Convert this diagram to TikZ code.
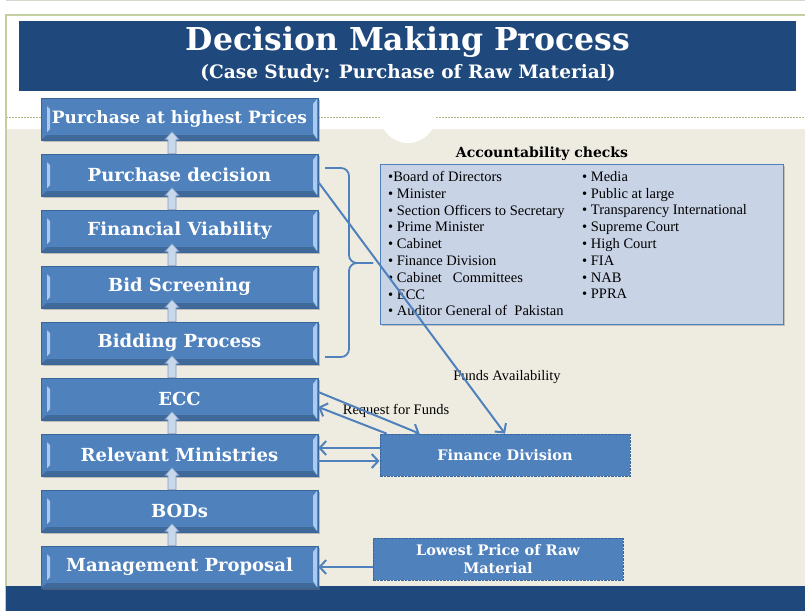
\documentclass[tikz,border=0pt]{standalone}
\usepackage{fontspec}
\setmainfont{DejaVu Serif}
\newfontfamily\listfont{Liberation Serif}
\usepackage{tikz}
\usetikzlibrary{arrows.meta,positioning,calc,shadows}

\definecolor{titleblue}{HTML}{1F497D}
\definecolor{boxblue}{HTML}{4F81BD}
\definecolor{boxedge}{HTML}{3A659B}
\definecolor{paper}{HTML}{EEECE1}
\definecolor{framegreen}{HTML}{C4CFA0}
\definecolor{dotgreen}{HTML}{A9B97F}
\definecolor{checkfill}{HTML}{C9D3E6}
\definecolor{bevel}{HTML}{A9CBF2}
\definecolor{upfill}{HTML}{C8D7EA}
\definecolor{upedge}{HTML}{7F9DC6}

\tikzset{
  procbox/.style={fill=boxblue, draw=boxedge, line width=0.6pt,
    minimum width=277pt, minimum height=42pt, inner sep=0pt,
    text=white, font=\fontsize{18}{20}\selectfont\bfseries,
    drop shadow={shadow xshift=2pt, shadow yshift=-2pt, opacity=0.45},
    path picture={
      \fill[bevel] ([xshift=6pt,yshift=-8pt]path picture bounding box.north west)
        -- ([xshift=9pt,yshift=-11pt]path picture bounding box.north west)
        -- ([xshift=9pt,yshift=11pt]path picture bounding box.south west)
        -- ([xshift=6pt,yshift=8pt]path picture bounding box.south west) -- cycle;
      \fill[bevel] ([xshift=-1pt,yshift=-1pt]path picture bounding box.north east)
        -- ([xshift=-5pt,yshift=-6pt]path picture bounding box.north east)
        -- ([xshift=-5pt,yshift=7pt]path picture bounding box.south east)
        -- ([xshift=-1pt,yshift=1pt]path picture bounding box.south east) -- cycle;
      \fill[black, opacity=0.18] (path picture bounding box.south west)
        -- ([xshift=6pt,yshift=5pt]path picture bounding box.south west)
        -- ([xshift=-5pt,yshift=5pt]path picture bounding box.south east)
        -- (path picture bounding box.south east) -- cycle;
    }},
  sidebox/.style={fill=boxblue, draw=boxedge, line width=0.8pt,
    dash pattern=on 2.5pt off 1pt, minimum width=250pt, minimum height=42pt,
    inner sep=0pt, text=white, font=\fontsize{14.5}{18.5}\selectfont\bfseries},
  checkbox/.style={fill=checkfill, draw=boxblue, line width=0.8pt,
    minimum width=403pt, minimum height=160pt, inner sep=0pt,
    drop shadow={shadow xshift=2pt, shadow yshift=-2pt, opacity=0.4}},
  listtext/.style={align=left, inner sep=0pt, text=black,
    font=\listfont\fontsize{14.5}{16.8}\selectfont},
  upblock/.style={fill=upfill, draw=upedge, line width=0.6pt},
  link/.style={draw=boxblue, line width=2pt,
    -{Straight Barb[length=6.5pt,width=14pt]}},
  bracket/.style={draw=boxblue, line width=1.8pt, rounded corners=8pt},
  remark/.style={inner sep=0pt, font=\listfont\fontsize{14.5}{16}\selectfont}
}

\begin{document}
\begin{tikzpicture}[x=1pt,y=-1pt]
\useasboundingbox (0,0) rectangle (805,611);
\fill[white] (0,0) rectangle (805,611);
\draw[color=paper!80!gray, line width=1pt] (6,0.8) -- (805,0.8);
\fill[paper] (6,129) rectangle (805,586);
\fill[white] (408,115) circle (28pt);
\draw[dotgreen, line width=1pt, dash pattern=on 2pt off 1pt] (6,117) -- (380,117);
\draw[dotgreen, line width=1pt, dash pattern=on 2pt off 1pt] (436,117) -- (805,117);
\draw[framegreen, line width=1.6pt] (805,15) -- (6,15) -- (6,611);
\fill[titleblue] (19,21) rectangle (796,91);
\fill[titleblue] (6,586) rectangle (805,611);

\node[text=white, font=\fontsize{31.5}{34}\selectfont\bfseries] (title) at (408,42) {Decision Making Process};
\node[text=white, font=\fontsize{18.5}{20}\selectfont\bfseries] (subtitle) at (408,74) {(Case Study: Purchase of Raw Material)};

\node[procbox, font=\fontsize{17}{20}\selectfont\bfseries] (hp) at (179.5,119) {Purchase at highest Prices};
\node[procbox] (pd) at (179.5,175) {Purchase decision};
\node[procbox] (fv) at (179.5,231) {Financial Viability};
\node[procbox] (bs) at (179.5,287) {Bid Screening};
\node[procbox] (bp) at (179.5,343) {Bidding Process};
\node[procbox] (ecc) at (179.5,399) {ECC};
\node[procbox] (rm) at (179.5,455) {Relevant Ministries};
\node[procbox] (bod) at (179.5,511) {BODs};
\node[procbox] (mp) at (179.5,567) {Management Proposal};

\draw[upblock] ([xshift=-11.5pt]pd.north) -- ++(0,-14) -- ++(-3,0) -- ++(7,-8) -- ++(7,8) -- ++(-3,0) -- ++(0,14) -- cycle;
\draw[upblock] ([xshift=-11.5pt]fv.north) -- ++(0,-14) -- ++(-3,0) -- ++(7,-8) -- ++(7,8) -- ++(-3,0) -- ++(0,14) -- cycle;
\draw[upblock] ([xshift=-11.5pt]bs.north) -- ++(0,-14) -- ++(-3,0) -- ++(7,-8) -- ++(7,8) -- ++(-3,0) -- ++(0,14) -- cycle;
\draw[upblock] ([xshift=-11.5pt]bp.north) -- ++(0,-14) -- ++(-3,0) -- ++(7,-8) -- ++(7,8) -- ++(-3,0) -- ++(0,14) -- cycle;
\draw[upblock] ([xshift=-11.5pt]ecc.north) -- ++(0,-14) -- ++(-3,0) -- ++(7,-8) -- ++(7,8) -- ++(-3,0) -- ++(0,14) -- cycle;
\draw[upblock] ([xshift=-11.5pt]rm.north) -- ++(0,-14) -- ++(-3,0) -- ++(7,-8) -- ++(7,8) -- ++(-3,0) -- ++(0,14) -- cycle;
\draw[upblock] ([xshift=-11.5pt]bod.north) -- ++(0,-14) -- ++(-3,0) -- ++(7,-8) -- ++(7,8) -- ++(-3,0) -- ++(0,14) -- cycle;
\draw[upblock] ([xshift=-11.5pt]mp.north) -- ++(0,-14) -- ++(-3,0) -- ++(7,-8) -- ++(7,8) -- ++(-3,0) -- ++(0,14) -- cycle;

\draw[bracket] (325,168) -- (349,168) -- (349,263) -- (373,263);
\draw[bracket] (325,357) -- (349,357) -- (349,263) -- (373,263);

\node[font=\fontsize{14}{16}\selectfont\bfseries] (achead) at (542,154) {Accountability checks};
\node[checkbox] (ac) at (581.5,244) {};
\node[listtext, anchor=north west] (leftcol) at (388,171) {•Board of Directors\\
• Minister\\
• Section Officers to Secretary\\
• Prime Minister\\
• Cabinet\\
• Finance Division\\
• Cabinet\ \ \ Committees\\
• ECC\\
• Auditor General of\ \ Pakistan};
\node[listtext, anchor=north west] (rightcol) at (582,171) {• Media\\
• Public at large\\
• Transparency International\\
• Supreme Court\\
• High Court\\
• FIA\\
• NAB\\
• PPRA};

\node[sidebox] (fd) at (505,455) {Finance Division};
\node[sidebox, align=center] (lp) at (498,559) {Lowest Price of Raw\\Material};

\node[remark] (funds) at (507,377) {Funds Availability};
\node[remark] (request) at (396,411) {Request for Funds};

\draw[link] ([yshift=-7pt]pd.east) -- (fd.north);
\draw[link] ([yshift=7pt]ecc.east) -- ([xshift=40pt]fd.north west);
\draw[link] ([xshift=7pt]fd.north west) -- ([yshift=-8pt]ecc.east);
\draw[link] ([yshift=7pt]fd.west) -- ([yshift=7pt]rm.east);
\draw[link] ([yshift=-6pt]rm.east) -- ([yshift=-6pt]fd.west);
\draw[link] (lp.west |- mp.east) -- (mp.east);
\end{tikzpicture}
\end{document}
